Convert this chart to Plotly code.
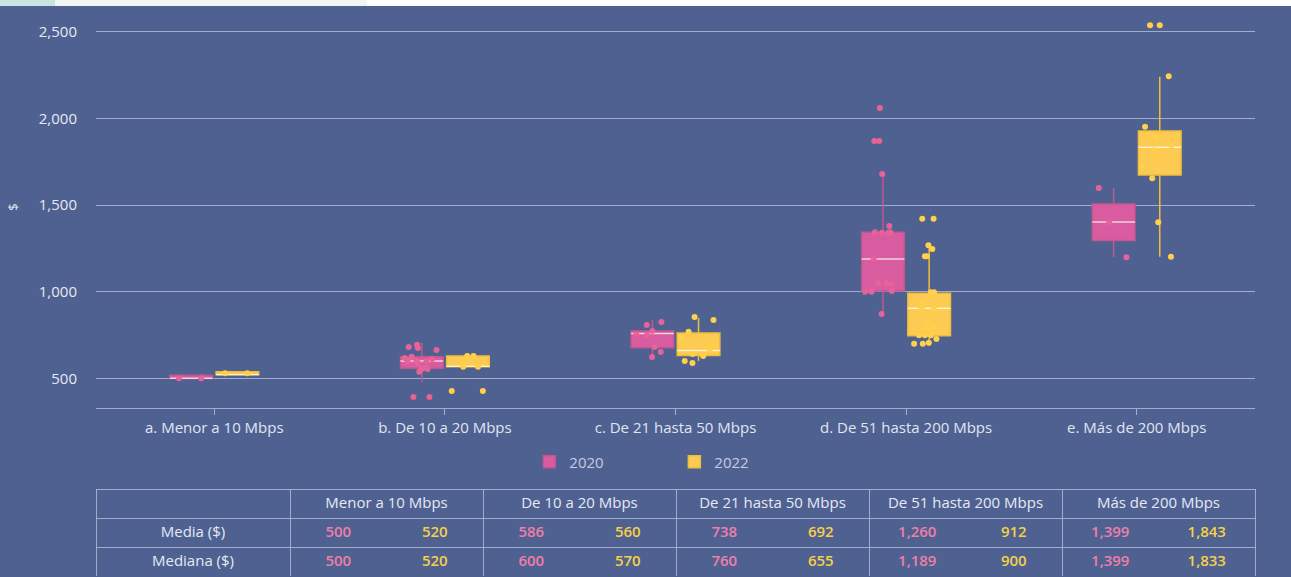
import plotly.graph_objects as go

# categories / labels
categories = ["a. Menor a 10 Mbps", "b. De 10 a 20 Mbps", "c. De 21 hasta 50 Mbps",
              "d. De 51 hasta 200 Mbps", "e. Más de 200 Mbps"]
table_groups = ["Menor a 10 Mbps", "De 10 a 20 Mbps", "De 21 hasta 50 Mbps",
                "De 51 hasta 200 Mbps", "Más de 200 Mbps"]
row_labels = ["Media ($)", "Mediana ($)"]

# box stats
lo_2020 = [498, 480, 617, 871, 1199]
q1_2020 = [498, 558, 677, 1004, 1295]
med_2020 = [500, 600, 758, 1189, 1403]
q3_2020 = [518, 625, 773, 1343, 1507]
hi_2020 = [518, 704, 837, 1680, 1599]

lo_2022 = [520, 567, 600, 687, 1202]
q1_2022 = [520, 567, 631, 746, 1674]
med_2022 = [522, 570, 660, 904, 1834]
q3_2022 = [537, 629, 762, 991, 1928]
hi_2022 = [537, 629, 848, 1276, 2242]

# individual points
pts_2020 = [
    [500, 500],
    [392, 392, 537, 554, 554, 560, 588, 600, 600, 600, 611, 617, 624, 664, 675, 681, 693],
    [623, 652, 681, 750, 756, 773, 808, 825],
    [871, 1000, 1000, 1004, 1004, 1045, 1050, 1050, 1189, 1340, 1340, 1343, 1343, 1379,
     1680, 1870, 1870, 2061],
    [1199, 1399, 1599],
]
pts_2022 = [
    [529, 529],
    [427, 427, 567, 567, 629, 629],
    [588, 600, 629, 640, 669, 733, 768, 837, 854],
    [700, 700, 705, 727, 748, 748, 748, 790, 790, 796, 833, 902, 902, 902, 931, 997, 997,
     1205, 1205, 1247, 1268, 1422, 1422],
    [1202, 1401, 1655, 1730, 1817, 1847, 1886, 1953, 2244, 2539, 2539],
]

# table values
media_2020 = ["500", "586", "738", "1,260", "1,399"]
media_2022 = ["520", "560", "692", "912", "1,843"]
mediana_2020 = ["500", "600", "760", "1,189", "1,399"]
mediana_2022 = ["520", "570", "655", "900", "1,833"]

BG = "#4F6191"
GRID = "#A3ADCB"
PINK_FILL = "#D95CA0"
PINK_LINE = "#C2578E"
PINK_PT = "#E8629A"
YEL_FILL = "#FDCB52"
YEL_LINE = "#EDBE3A"
YEL_PT = "#FFD04A"
FONT = "Open Sans"

fig = go.Figure()


def add_year(name, lo, q1, med, q3, hi, pts, fill, line, ptcol, median_col, group):
    fig.add_trace(go.Box(
        name=name, x=categories, lowerfence=lo, q1=q1, median=med, q3=q3, upperfence=hi,
        fillcolor=fill, line=dict(color=line, width=1.5), whiskerwidth=0,
        offsetgroup=group, legendgroup=group, boxpoints=False))
    # light median line on top of the box
    fig.add_trace(go.Box(
        name=name, x=categories, lowerfence=med, q1=med, median=med, q3=med, upperfence=med,
        fillcolor="rgba(0,0,0,0)", line=dict(color=median_col, width=1.5), whiskerwidth=0,
        offsetgroup=group, legendgroup=group, showlegend=False, boxpoints=False,
        hoverinfo="skip"))
    xs, ys = [], []
    for cat, vals in zip(categories, pts):
        xs += [cat] * len(vals)
        ys += vals
    fig.add_trace(go.Box(
        name=name, x=xs, y=ys, boxpoints="all", jitter=0.9, pointpos=0,
        fillcolor="rgba(0,0,0,0)", line=dict(color="rgba(0,0,0,0)", width=0),
        marker=dict(color=ptcol, size=6), offsetgroup=group, legendgroup=group,
        showlegend=False))


add_year("2020", lo_2020, q1_2020, med_2020, q3_2020, hi_2020, pts_2020,
         PINK_FILL, PINK_LINE, PINK_PT, "#F6D3E3", "y2020")
add_year("2022", lo_2022, q1_2022, med_2022, q3_2022, hi_2022, pts_2022,
         YEL_FILL, YEL_LINE, YEL_PT, "#FFF2CF", "y2022")

# table: borders + headers, then numbers laid on top
fig.add_trace(go.Table(
    domain=dict(x=[0, 1], y=[0, 0.1525]),
    columnwidth=[194, 193, 193, 193, 193, 193],
    header=dict(values=[""] + table_groups, height=29, fill_color=BG,
                line=dict(color=GRID, width=1), align="center",
                font=dict(family=FONT, size=15, color="#E6E9F3")),
    cells=dict(values=[row_labels] + [["", ""] for _ in table_groups], height=29,
               fill_color=BG, line=dict(color=GRID, width=1), align="center",
               font=dict(family=FONT, size=15, color="#E6E9F3")),
))

num_cols = [["", ""]]
num_colors = ["#E6E9F3"]
for a, b, c, d in zip(media_2020, mediana_2020, media_2022, mediana_2022):
    num_cols += [[a, b], [c, d]]
    num_colors += ["#EE7FA8", "#F6D048"]

fig.add_trace(go.Table(
    domain=dict(x=[0, 1], y=[0, 0.1525]),
    columnwidth=[194] + [96.5] * 10,
    header=dict(values=[""] * 11, height=29, fill_color="rgba(0,0,0,0)",
                line=dict(color="rgba(0,0,0,0)", width=0)),
    cells=dict(values=num_cols, height=29, fill_color="rgba(0,0,0,0)",
               line=dict(color="rgba(0,0,0,0)", width=0), align="center",
               font=dict(family=FONT, size=15, color=num_colors, weight=600)),
))

# strip of page chrome above the chart
fig.add_shape(type="rect", xref="paper", yref="paper", x0=-96 / 1159, x1=-41 / 1159,
              y0=1 - 6 / 577, y1=1, fillcolor="#C8E6DF", line_width=0, layer="above")
fig.add_shape(type="rect", xref="paper", yref="paper", x0=-41 / 1159, x1=271 / 1159,
              y0=1 - 6 / 577, y1=1, fillcolor="#EFF6F5", line_width=0, layer="above")
fig.add_shape(type="rect", xref="paper", yref="paper", x0=271 / 1159, x1=1195 / 1159,
              y0=1 - 6 / 577, y1=1, fillcolor="#FFFFFF", line_width=0, layer="above")

fig.update_layout(
    width=1291, height=577,
    margin=dict(l=96, r=36, t=0, b=0),
    paper_bgcolor=BG, plot_bgcolor=BG,
    boxmode="group", boxgap=0.6, boxgroupgap=0.075,
    font=dict(family=FONT, color="#E6E9F3"),
    legend=dict(orientation="h", x=0.499, xanchor="center", y=0.1993, yanchor="middle",
                entrywidth=100, font=dict(size=15, color="#C5CBE0"),
                bgcolor="rgba(0,0,0,0)"),
    hovermode="closest",
)
fig.update_xaxes(
    type="category", showline=True, linecolor=GRID, linewidth=1,
    ticks="outside", ticklen=6, tickcolor=GRID, showgrid=False,
    tickfont=dict(size=15, color="#E1E5F0"),
)
fig.update_yaxes(
    domain=[0.2924, 0.9896], range=[326.7, 2650],
    tickvals=[500, 1000, 1500, 2000, 2500], tickformat=",",
    showgrid=True, gridcolor=GRID, gridwidth=1, zeroline=False,
    ticklabelstandoff=18, tickfont=dict(size=15, color="#E6E9F3"),
    title=dict(text="$", font=dict(size=13, color="#E6E9F3"), standoff=17),
)

page_js = ("document.body.style.margin='0';document.body.style.overflow='hidden';"
           "document.head.insertAdjacentHTML('beforeend',"
           "'<style>.scrollbar-kit{display:none}</style>');")
fig.write_html("out.html", config={"displayModeBar": False}, post_script=page_js)
